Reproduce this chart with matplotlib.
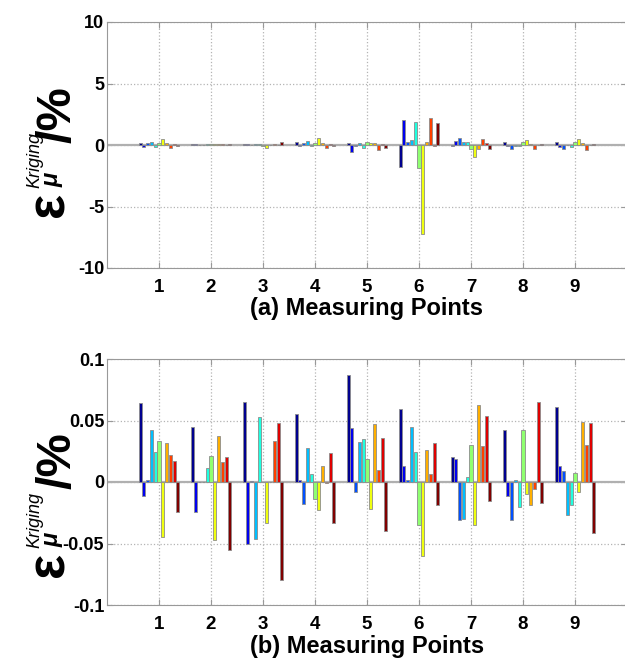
import matplotlib
matplotlib.use('Agg')
import matplotlib.pyplot as plt
import numpy as np

points = [1, 2, 3, 4, 5, 6, 7, 8, 9]

# (a) error per measuring point, one row per series (11 series)
err_a = [
    [0.16, 0.06, 0.05, 0.22, 0.14, -1.79, -0.05, 0.24, 0.24],
    [-0.14, 0.06, 0.05, -0.08, -0.57, 2.06, 0.33, -0.08, -0.16],
    [0.14, 0.0, 0.03, 0.14, -0.08, 0.24, 0.60, -0.33, -0.33],
    [0.24, 0.0, 0.08, 0.33, 0.16, 0.43, 0.24, -0.08, 0.0],
    [-0.14, 0.06, 0.08, -0.08, -0.24, 1.87, 0.24, -0.08, -0.16],
    [0.14, 0.08, -0.08, 0.16, 0.24, -1.90, -0.33, 0.24, 0.24],
    [0.51, 0.08, -0.24, 0.57, 0.16, -7.24, -0.95, 0.43, 0.51],
    [0.16, 0.08, 0.0, 0.16, 0.16, 0.24, -0.33, 0.08, 0.16],
    [-0.24, 0.06, 0.05, -0.24, -0.41, 2.17, 0.51, -0.33, -0.40],
    [0.08, 0.0, 0.0, 0.08, 0.05, -0.08, 0.16, 0.0, 0.03],
    [-0.08, 0.06, 0.22, -0.08, -0.24, 1.79, -0.33, 0.08, 0.08],
]

# (b)
err_b = [
    [0.064, 0.045, 0.065, 0.055, 0.087, 0.059, 0.020, 0.042, 0.061],
    [-0.011, -0.024, -0.050, 0.0016, 0.0435, 0.0127, 0.019, -0.0116, 0.0127],
    [0.0016, 0.0004, 0.0005, -0.0176, -0.008, 0.0016, -0.031, -0.031, 0.0092],
    [0.042, 0.0004, -0.0465, 0.028, 0.0324, 0.045, -0.030, 0.0019, -0.027],
    [0.024, 0.0116, 0.0527, 0.0065, 0.035, 0.024, 0.0038, -0.0205, -0.019],
    [0.0335, 0.021, 0.0004, -0.0135, 0.019, -0.035, 0.030, 0.0424, 0.0073],
    [-0.045, -0.047, -0.033, -0.0227, -0.022, -0.060, -0.035, -0.0097, -0.008],
    [0.032, 0.037, 0.0004, 0.0127, 0.047, 0.026, 0.0627, -0.019, 0.049],
    [0.022, 0.016, 0.0335, -0.0008, 0.010, 0.0062, 0.029, -0.0054, 0.030],
    [0.017, 0.020, 0.048, 0.0235, 0.036, 0.032, 0.0535, 0.0654, 0.048],
    [-0.0246, -0.055, -0.0795, -0.0335, -0.040, -0.019, -0.0154, -0.0173, -0.0416],
]

yticks_a = [-10, -5, 0, 5, 10]
ylabels_a = ['-10', '-5', '0', '5', '10']
yticks_b = [-0.1, -0.05, 0, 0.05, 0.1]
ylabels_b = ['-0.1', '-0.05', '0', '0.05', '0.1']

W, H = 625, 666
font = 'Liberation Sans'


def matlab_jet64():
    # MATLAB's jet(64) colormap
    n = 16
    u = np.concatenate([np.arange(1, n + 1) / n, np.ones(n - 1),
                        np.arange(n, 0, -1) / n])
    g = n // 2 + np.arange(1, len(u) + 1)
    r, b = g + n, g - n
    J = np.zeros((64, 3))
    J[r[r <= 64] - 1, 0] = u[r <= 64]
    J[g[g <= 64] - 1, 1] = u[g <= 64]
    J[b[b >= 1] - 1, 2] = u[b >= 1]
    return J


jet = matlab_jet64()
nser = len(err_a)
colors = [jet[min(int(i / (nser - 1) * 64), 63)] for i in range(nser)]

fig = plt.figure(figsize=(W / 100, H / 100), dpi=100)
ax1 = fig.add_axes([107 / W, 1 - 268 / H, 520 / W, 246 / H])
ax2 = fig.add_axes([107 / W, 1 - 605 / H, 520 / W, 246 / H])


def draw(ax, data, yticks, ylabels, xlab):
    n = len(data)
    gw = 0.8
    x = np.array(points, dtype=float)
    for i, row in enumerate(data):
        off = (i - (n - 1) / 2) * gw / n
        ax.bar(x + off, row, width=gw / n * 0.8, color=colors[i],
               edgecolor='#8c8c8c', linewidth=0.6, zorder=3)
    ax.axhline(0, color='#b0b0b0', lw=1.6, zorder=2)
    ax.set_xlim(0, 10)
    ax.set_ylim(yticks[0], yticks[-1])
    ax.set_xticks(points)
    ax.set_xticklabels([str(p) for p in points], family=font,
                       fontweight='bold', fontsize=13.5)
    ax.set_yticks(yticks)
    ax.set_yticklabels(ylabels, family=font, fontweight='bold', fontsize=13)
    ax.grid(True, linestyle=':', color='#b4b4b4', linewidth=0.9, zorder=0)
    ax.tick_params(direction='in', length=4, color='#999999', pad=2,
                   top=True, right=True)
    ax.tick_params(axis='x', pad=8)
    for s in ax.spines.values():
        s.set_color('#999999')
    ax.set_xlabel(xlab, family=font, fontweight='bold', fontsize=17,
                  labelpad=1)


draw(ax1, err_a, yticks_a, ylabels_a, '(a) Measuring Points')
draw(ax2, err_b, yticks_b, ylabels_b, '(b) Measuring Points')


def ylab(eps_y, slash_y):
    def t(x, y, s, size, **kw):
        fig.text(x / W, 1 - y / H, s, rotation=90, rotation_mode='anchor',
                 ha='left', va='baseline', fontsize=size, family=font, **kw)
    t(63, eps_y, 'ε', 38, fontweight='bold')
    t(59, eps_y - 30, 'μ', 17, fontweight='bold', style='italic')
    t(39, eps_y - 29, 'Kriging', 13, style='italic')
    t(71, slash_y, '/%', 35, fontweight='bold')


ylab(217, 143)
ylab(577, 489)

fig.savefig('out.png', dpi=100)
